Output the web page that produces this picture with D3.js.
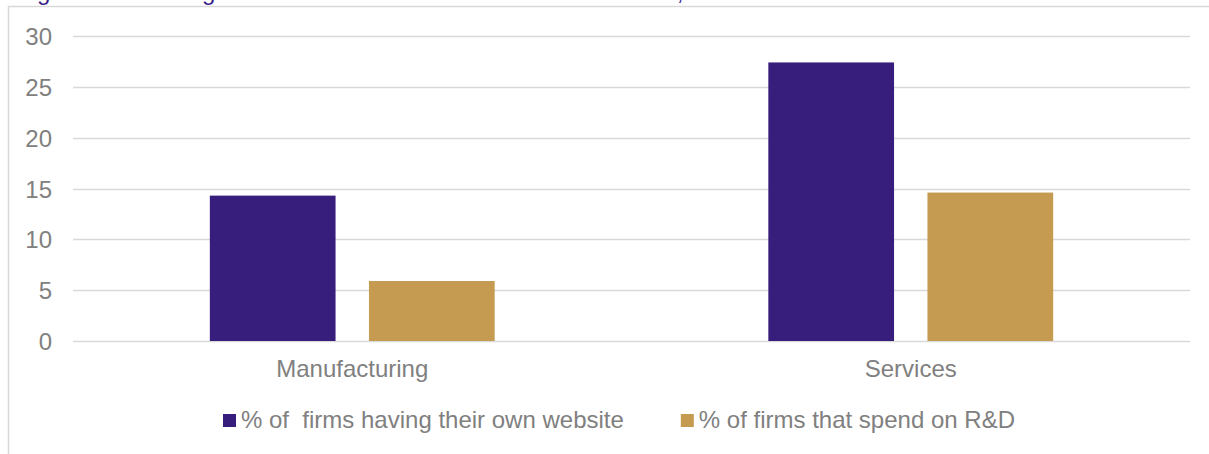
<!DOCTYPE html>
<html>
<head>
<meta charset="utf-8">
<script src="https://cdn.jsdelivr.net/npm/d3@7"></script>
<style>
  html, body { margin: 0; padding: 0; background: #ffffff; overflow: hidden; }
  svg { display: block; font-family: "Liberation Sans", Arial, sans-serif; }
</style>
</head>
<body>
<svg id="chart" width="1209" height="454"></svg>
<script>
const categories = ["Manufacturing", "Services"];
const seriesNames = ["% of  firms having their own website", "% of firms that spend on R&D"];
const websiteValues = [14.3, 27.4];
const rdValues = [5.9, 14.6];
const yTicks = [0, 5, 10, 15, 20, 25, 30];
const titleText = "Figure 3: ICT usage and R&D investment of firms in the sector, 2022";

const colors = ["#371d7c", "#c49b51"];
const textColor = "#808080";
const gridColor = "#d9d9d9";

const svg = d3.select("#chart");
const W = 1209, H = 454;
const plot = { left: 73, right: 1190, top: 36, bottom: 341 };

// title (cropped at the top edge, as in the reference)
svg.append("text")
  .attr("x", 17).attr("y", 0)
  .attr("fill", "#3a1f8a")
  .style("font-size", "24px")
  .text(titleText);

// chart frame
svg.append("rect")
  .attr("x", 8.5).attr("y", 6.5)
  .attr("width", W + 20).attr("height", H + 20)
  .attr("fill", "#ffffff")
  .attr("stroke", gridColor).attr("stroke-width", 1.5);

const y = d3.scaleLinear().domain([0, 30]).range([plot.bottom, plot.top]);
const x0 = d3.scaleBand().domain(categories).range([plot.left, plot.right]).padding(0);
const groupFrac = 0.51;
const x1 = d3.scaleBand().domain(seriesNames)
  .range([0, x0.bandwidth() * groupFrac]).paddingInner(0.21).paddingOuter(0);
const groupOffset = (x0.bandwidth() - x0.bandwidth() * groupFrac) / 2;

// gridlines
svg.append("g").selectAll("line").data(yTicks).join("line")
  .attr("x1", plot.left).attr("x2", plot.right)
  .attr("y1", d => Math.round(y(d)) + 0.5).attr("y2", d => Math.round(y(d)) + 0.5)
  .attr("stroke", gridColor).attr("stroke-width", 1.5);

// y axis labels
const yAxis = d3.axisLeft(y).tickValues(yTicks).tickSize(0).tickPadding(0);
const yg = svg.append("g").attr("transform", "translate(52,0)").call(yAxis);
yg.select(".domain").remove();
yg.selectAll("text")
  .attr("fill", textColor)
  .style("font-size", "24px")
  .style("font-family", "'Liberation Sans', Arial, sans-serif")
  .attr("dy", "0.36em");

// bars
const rows = categories.map((c, i) => ({ cat: c, vals: [websiteValues[i], rdValues[i]] }));
const groups = svg.append("g").selectAll("g").data(rows).join("g")
  .attr("transform", d => `translate(${x0(d.cat) + groupOffset},0)`);
groups.selectAll("rect")
  .data(d => d.vals.map((v, j) => ({ s: seriesNames[j], v, j })))
  .join("rect")
  .attr("x", d => x1(d.s))
  .attr("width", x1.bandwidth())
  .attr("y", d => y(d.v))
  .attr("height", d => y(0) - y(d.v))
  .attr("fill", d => colors[d.j]);

// x axis labels
const xAxis = d3.axisBottom(x0).tickSize(0).tickPadding(0);
const xg = svg.append("g").attr("transform", `translate(0,${plot.bottom})`).call(xAxis);
xg.select(".domain").remove();
xg.selectAll("text")
  .attr("fill", textColor)
  .attr("y", 36).attr("dy", 0)
  .style("font-size", "24px")
  .style("font-family", "'Liberation Sans', Arial, sans-serif");

// legend
const legend = svg.append("g");
let lx = 223;
seriesNames.forEach((name, i) => {
  legend.append("rect")
    .attr("x", lx).attr("y", 414)
    .attr("width", 13).attr("height", 13)
    .attr("fill", colors[i]);
  const t = legend.append("text")
    .attr("x", lx + 18).attr("y", 428)
    .attr("fill", textColor)
    .style("font-size", "24px")
    .style("white-space", "pre")
    .attr("xml:space", "preserve")
    .text(name);
  lx = lx + 18 + t.node().getComputedTextLength() + 57;
});
</script>
</body>
</html>
